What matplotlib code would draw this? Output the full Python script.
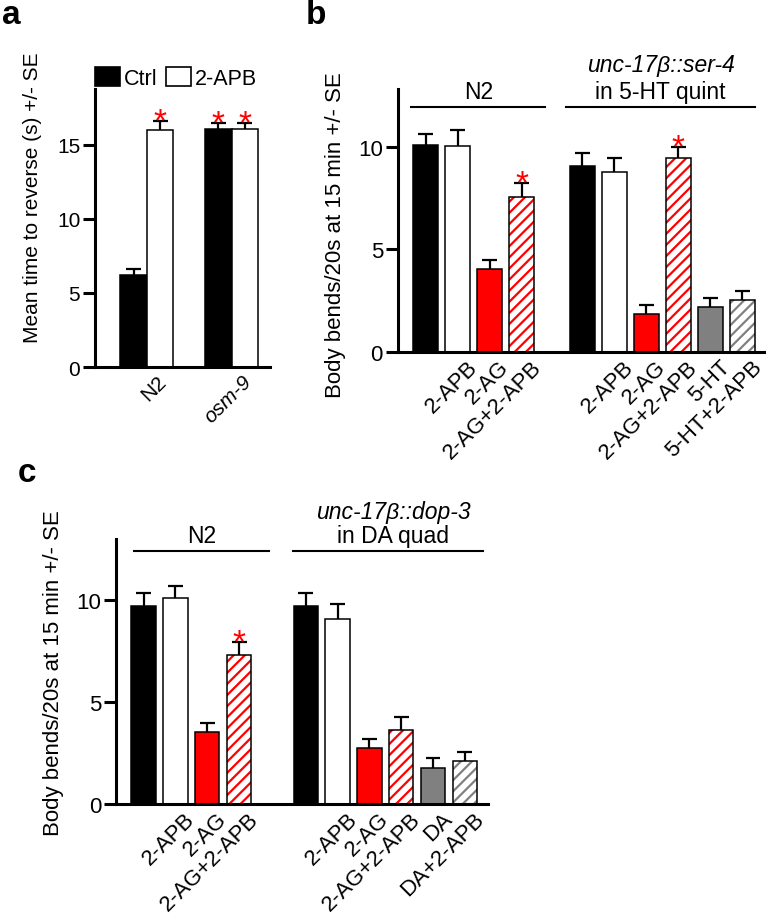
import matplotlib
matplotlib.use('Agg')
import matplotlib.pyplot as plt
from matplotlib.patches import Patch
from matplotlib.transforms import ScaledTranslation

plt.rcParams['font.family'] = ['Liberation Sans', 'DejaVu Sans']
plt.rcParams['hatch.linewidth'] = 1.6

# ---------------- data ----------------
# panel a
a_groups = ['N2', 'osm-9']
a_ctrl = [6.2, 16.1]
a_ctrl_se = [0.4, 0.4]
a_apb = [16.0, 16.1]
a_apb_se = [0.6, 0.4]
a_ctrl_sig = [False, True]
a_apb_sig = [True, True]
a_legend = ['Ctrl', '2-APB']
a_ylabel = 'Mean time to reverse (s) +/- SE'
a_yticks = [0, 5, 10, 15]

# panel b
b_n2_labels = ['', '2-APB', '2-AG', '2-AG+2-APB']
b_n2_vals = [10.13, 10.05, 4.05, 7.55]
b_n2_se = [0.52, 0.79, 0.44, 0.69]
b_n2_sig = [False, False, False, True]
b_tg_labels = ['', '2-APB', '2-AG', '2-AG+2-APB', '5-HT', '5-HT+2-APB']
b_tg_vals = [9.10, 8.78, 1.84, 9.48, 2.17, 2.53]
b_tg_se = [0.60, 0.68, 0.46, 0.52, 0.44, 0.42]
b_tg_sig = [False, False, False, True, False, False]
b_tg_title = ['unc-17β::ser-4', 'in 5-HT quint']

# panel c
c_n2_labels = ['', '2-APB', '2-AG', '2-AG+2-APB']
c_n2_vals = [9.69, 10.08, 3.55, 7.30]
c_n2_se = [0.64, 0.59, 0.40, 0.63]
c_n2_sig = [False, False, False, True]
c_tg_labels = ['', '2-APB', '2-AG', '2-AG+2-APB', 'DA', 'DA+2-APB']
c_tg_vals = [9.72, 9.07, 2.75, 3.63, 1.75, 2.09]
c_tg_se = [0.62, 0.73, 0.44, 0.62, 0.50, 0.44]
c_tg_sig = [False, False, False, False, False, False]
c_tg_title = ['unc-17β::dop-3', 'in DA quad']

bc_ylabel = 'Body bends/20s at 15 min +/- SE'
bc_yticks = [0, 5, 10]

# ---------------- styling ----------------
W, H = 766, 920
fig = plt.figure(figsize=(W / 100, H / 100), dpi=100)
RED = '#ff0000'
GRAY = '#808080'
STYLES = {
    'black': dict(face='black', hatch=None),
    'white': dict(face='white', hatch=None),
    'red': dict(face=RED, hatch=None),
    'redh': dict(face='white', hatch=RED),
    'gray': dict(face=GRAY, hatch=None),
    'grayh': dict(face='white', hatch=GRAY),
}
G1 = ['black', 'white', 'red', 'redh']
G2 = ['black', 'white', 'red', 'redh', 'gray', 'grayh']
SPINE = 2.2
EDGE = 1.1


def px_axes(l, t, r, b):
    return fig.add_axes([l / W, 1 - b / H, (r - l) / W, (b - t) / H])


def style_axes(ax, fs):
    for s in ['top', 'right']:
        ax.spines[s].set_visible(False)
    for s in ['left', 'bottom']:
        ax.spines[s].set_linewidth(SPINE)
    ax.tick_params(axis='y', direction='out', length=8.6, width=SPINE,
                   labelsize=fs, pad=2)
    ax.tick_params(axis='x', length=0, labelsize=fs, pad=3)


def draw_bar(ax, x, v, se, style, w, capw, sig):
    st = STYLES[style]
    if st['hatch'] is None:
        ax.bar(x, v, w, color=st['face'], edgecolor='black', linewidth=EDGE, zorder=2)
    else:
        ax.bar(x, v, w, color='white', edgecolor=st['hatch'], hatch='///',
               linewidth=0, zorder=2)
        ax.bar(x, v, w, fill=False, edgecolor='black', linewidth=EDGE, zorder=3)
    top = v + se
    ax.vlines(x, v, top, color='black', linewidth=1.6, zorder=1)
    ax.hlines(top, x - capw, x + capw, color='black', linewidth=1.6, zorder=1)
    if sig:
        ax.annotate('*', (x, top), xytext=(0, -6.5), textcoords='offset points',
                    ha='center', va='baseline', color=RED, fontsize=24)


def shift_labels(ax, dx_px, dy_px=0):
    off = ScaledTranslation(dx_px / 100, dy_px / 100, fig.dpi_scale_trans)
    for lab in ax.get_xticklabels():
        lab.set_rotation(45)
        lab.set_ha('right')
        lab.set_va('top')
        lab.set_rotation_mode('anchor')
        lab.set_transform(lab.get_transform() + off)


# ---------------- panel a ----------------
axa = px_axes(95, 90, 270, 368)
style_axes(axa, 15)
wa = 0.313
for i, g in enumerate(a_groups):
    draw_bar(axa, i - wa / 2, a_ctrl[i], a_ctrl_se[i], 'black', wa, 0.089, a_ctrl_sig[i])
    draw_bar(axa, i + wa / 2, a_apb[i], a_apb_se[i], 'white', wa, 0.089, a_apb_sig[i])
axa.set_xlim(-0.611, 1.454)
axa.set_ylim(0, 18.78)
axa.set_yticks(a_yticks)
axa.set_xticks(range(len(a_groups)))
axa.set_xticklabels(a_groups)
axa.get_xticklabels()[1].set_style('italic')
shift_labels(axa, 10)
axa.legend(handles=[Patch(facecolor='black', edgecolor='black', linewidth=1.2),
                    Patch(facecolor='white', edgecolor='black', linewidth=1.2)],
           labels=a_legend, loc='lower left', bbox_to_anchor=(0, 1.0), ncol=2,
           frameon=False, fontsize=15.5, handlelength=1.16, handleheight=0.93,
           handletextpad=0.19, columnspacing=0.37, borderpad=0, borderaxespad=0)
fig.text(33 / W, 1 - 198 / H, a_ylabel, rotation=90, ha='center', va='center', fontsize=15)
fig.text(2 / W, 1 - 16 / H, 'a', ha='left', va='center', fontsize=24, fontweight='bold')


# ---------------- panels b & c ----------------
def panel(box, vals1, se1, sig1, labs1, vals2, se2, sig2, labs2, g2start,
          xlim, ylim, line_y, n2_line, tg_line, n2_text, tg_text, title2, ylab_xy,
          letter, letter_xy):
    ax = px_axes(*box)
    style_axes(ax, 16)
    w = 0.77
    capw = 0.235
    xs1 = list(range(len(vals1)))
    xs2 = [g2start + i for i in range(len(vals2))]
    for x, v, s, st, sg in zip(xs1, vals1, se1, G1, sig1):
        draw_bar(ax, x, v, s, st, w, capw, sg)
    for x, v, s, st, sg in zip(xs2, vals2, se2, G2, sig2):
        draw_bar(ax, x, v, s, st, w, capw, sg)
    ax.set_xlim(*xlim)
    ax.set_ylim(*ylim)
    ax.set_yticks(bc_yticks)
    ax.set_xticks(xs1 + xs2)
    ax.set_xticklabels(labs1 + labs2)
    shift_labels(ax, 9)
    ax.plot(n2_line, [line_y, line_y], color='black', lw=1.5, clip_on=False)
    ax.plot(tg_line, [line_y, line_y], color='black', lw=1.5, clip_on=False)
    ax.text(n2_text[0], n2_text[1], 'N2', ha='center', va='center', fontsize=16.5,
            clip_on=False)
    ax.text(tg_text[0], tg_text[2], title2[0], ha='center', va='center', fontsize=16.5,
            style='italic', clip_on=False)
    ax.text(tg_text[0], tg_text[1], title2[1], ha='center', va='center', fontsize=16.5,
            clip_on=False)
    fig.text(ylab_xy[0] / W, 1 - ylab_xy[1] / H, bc_ylabel, rotation=90, ha='center',
             va='center', fontsize=16)
    fig.text(letter_xy[0] / W, 1 - letter_xy[1] / H, letter, ha='left', va='center',
             fontsize=24, fontweight='bold')
    return ax


panel((397.7, 90, 764.8, 352.7), b_n2_vals, b_n2_se, b_n2_sig, b_n2_labels,
      b_tg_vals, b_tg_se, b_tg_sig, b_tg_labels, 4.9,
      (-0.875, 10.6), (0, 12.85), 11.97, [-0.45, 3.74], [4.38, 10.3],
      (1.66, 12.75), (7.34, 12.75, 14.07), b_tg_title, (336, 235), 'b', (306, 16))

panel((116, 540, 488, 805), c_n2_vals, c_n2_se, c_n2_sig, c_n2_labels,
      c_tg_vals, c_tg_se, c_tg_sig, c_tg_labels, 5.1,
      (-0.87, 10.83), (0, 12.99), 12.42, [-0.3, 3.95], [4.7, 10.68],
      (1.82, 13.15), (7.84, 13.15, 14.36), c_tg_title, (54, 673), 'c', (18, 474))

fig.savefig('out.png', dpi=100)
